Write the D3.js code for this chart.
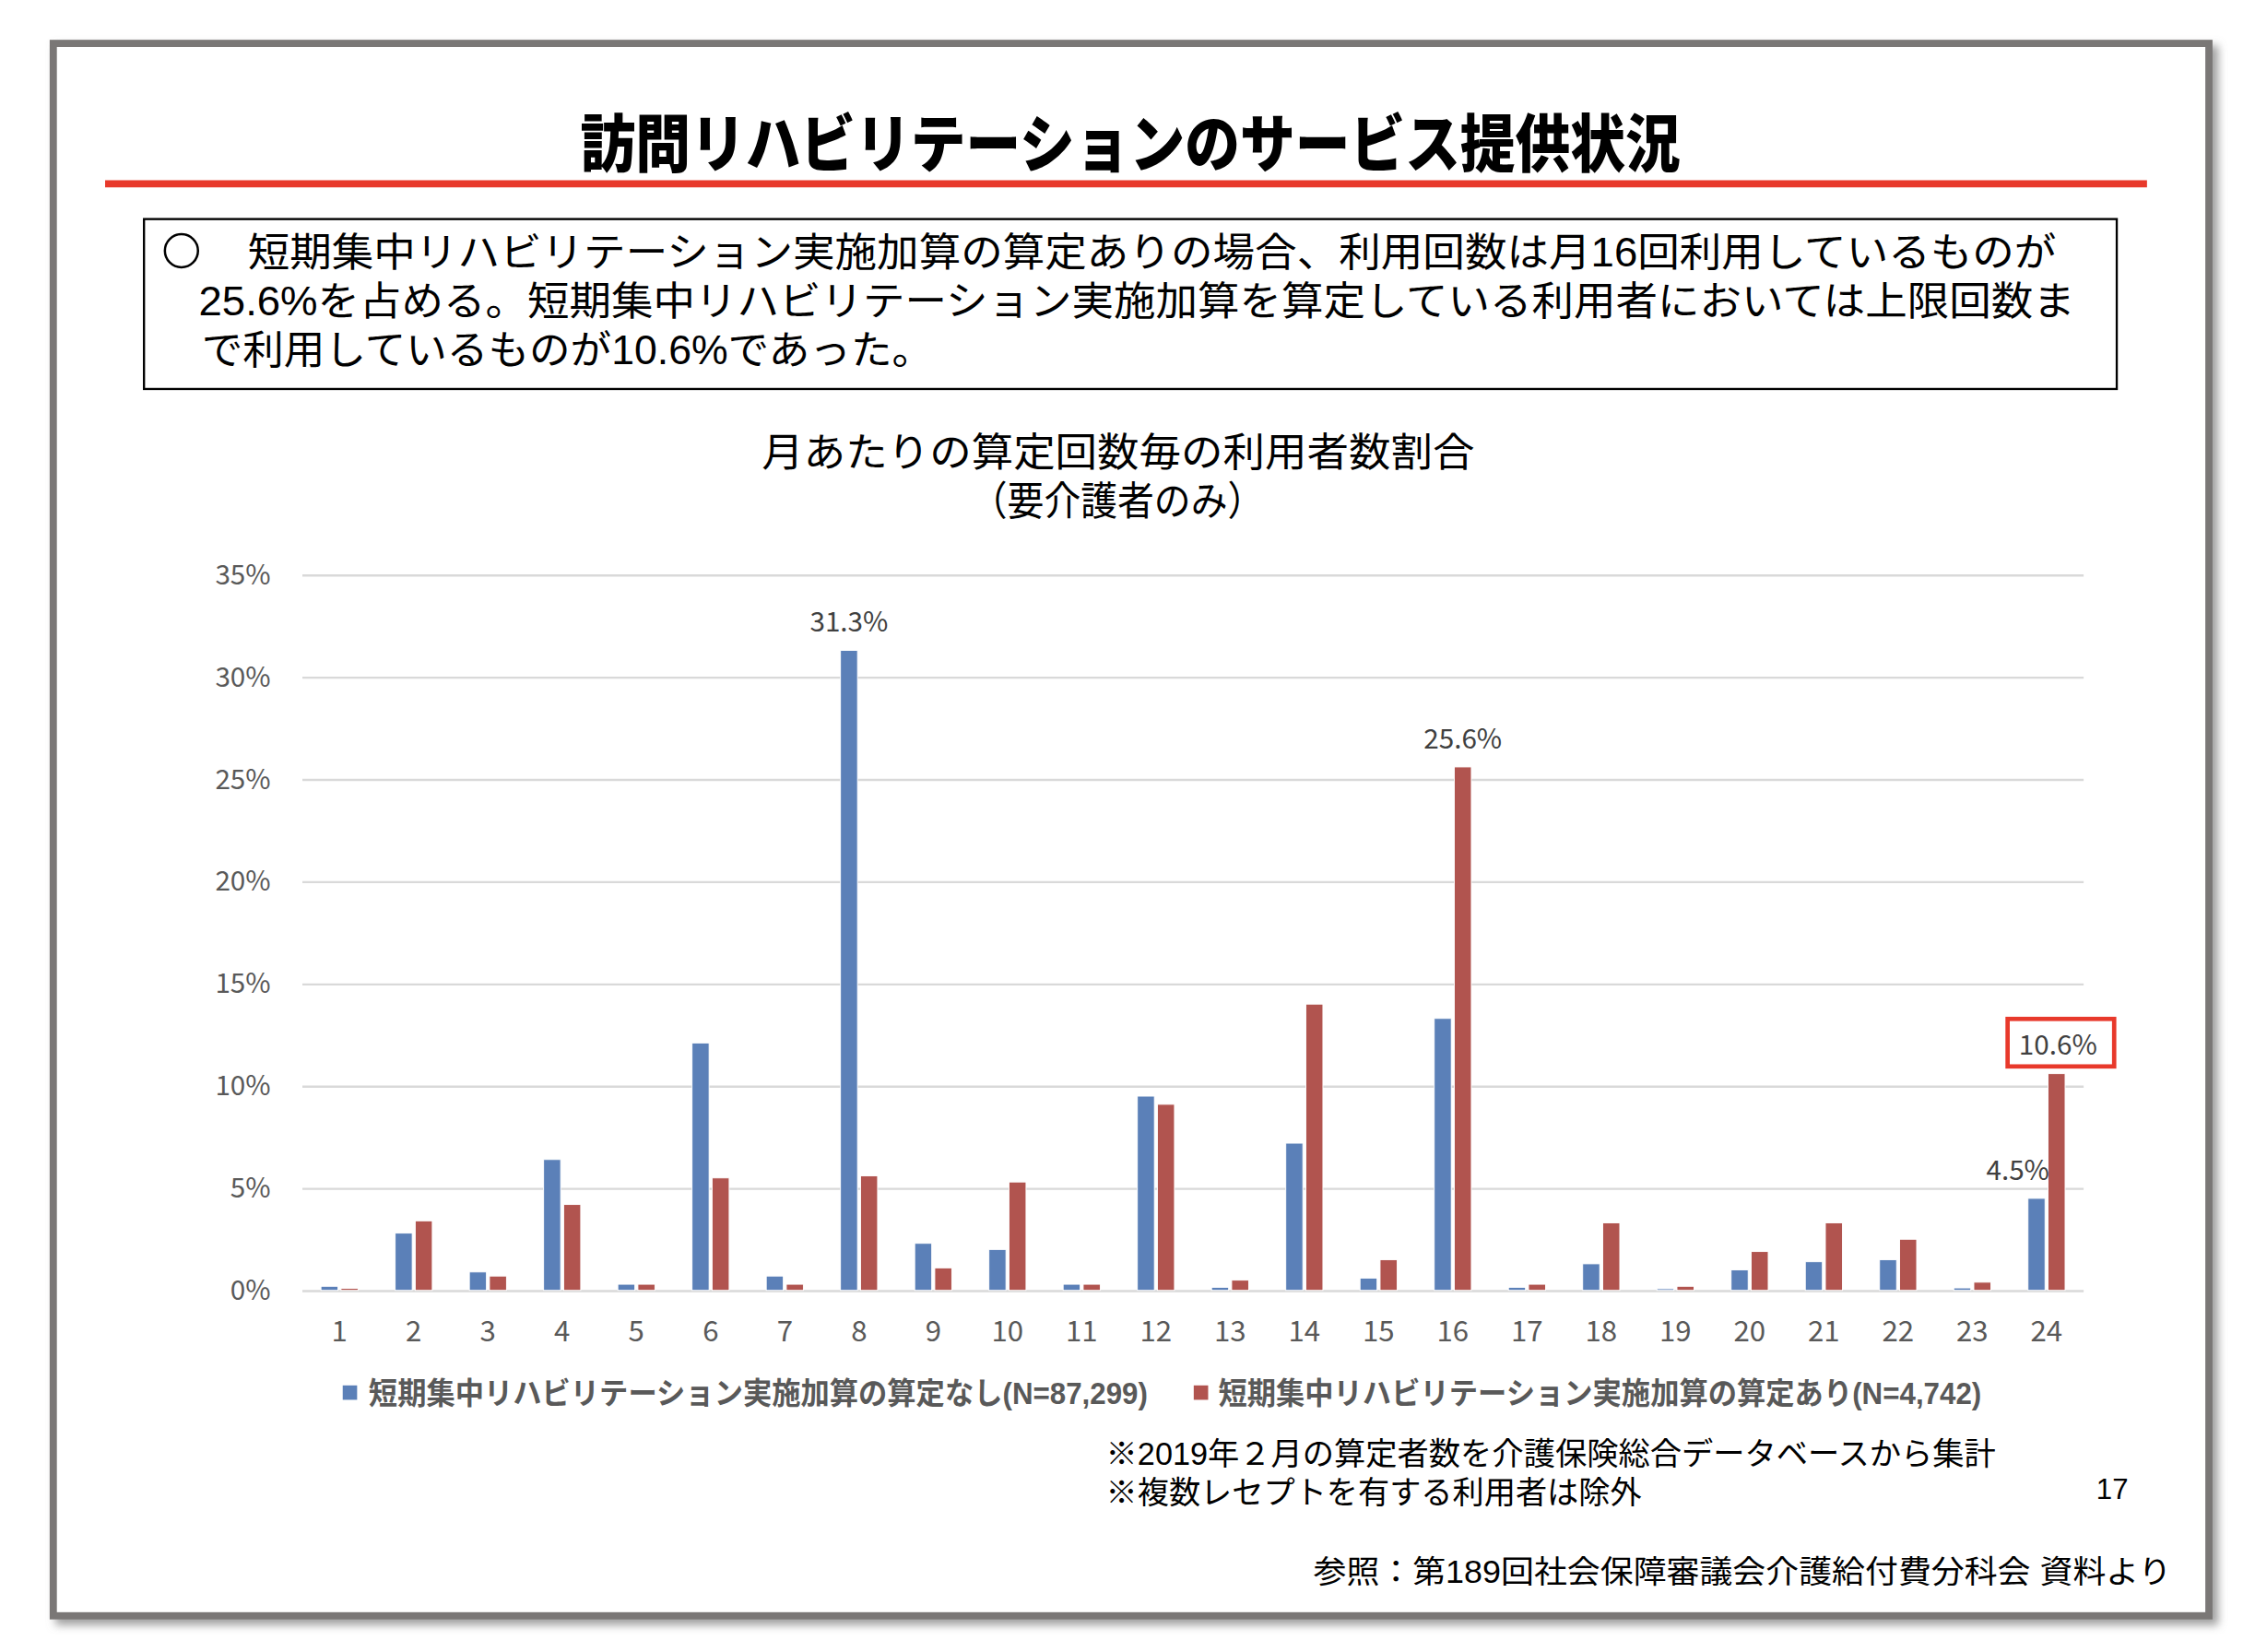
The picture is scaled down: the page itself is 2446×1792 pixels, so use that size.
<!DOCTYPE html>
<html>
<head>
<meta charset="utf-8">
<script src="https://cdn.jsdelivr.net/npm/d3@7"></script>
<style>
  body { margin: 0; background: #fff; }
  svg { display: block; }
  .jp { font-family: "Liberation Sans Narrow", "Liberation Sans", "Noto Sans CJK JP", sans-serif; }
</style>
</head>
<body>
<div id="chart"></div>
<script>
// ---- data ----
const categories = ["1","2","3","4","5","6","7","8","9","10","11","12","13","14","15","16","17","18","19","20","21","22","23","24"];
const seriesNames = ["短期集中リハビリテーション実施加算の算定なし(N=87,299)", "短期集中リハビリテーション実施加算の算定あり(N=4,742)"];
const withoutAdd = [0.2, 2.8, 0.9, 6.4, 0.3, 12.1, 0.7, 31.3, 2.3, 2.0, 0.3, 9.5, 0.15, 7.2, 0.6, 13.3, 0.15, 1.3, 0.08, 1.0, 1.4, 1.5, 0.12, 4.5];
const withAdd    = [0.1, 3.4, 0.7, 4.2, 0.3, 5.5, 0.3, 5.6, 1.1, 5.3, 0.3, 9.1, 0.5, 14.0, 1.5, 25.6, 0.3, 3.3, 0.2, 1.9, 3.3, 2.5, 0.4, 10.6];
const yTicks = [0, 5, 10, 15, 20, 25, 30, 35];
const shownLabels = [
  { s: 0, cat: "8",  text: "31.3%" },
  { s: 1, cat: "16", text: "25.6%" },
  { s: 0, cat: "24", text: "4.5%" },
  { s: 1, cat: "24", text: "10.6%", boxed: true }
];

const titleText = "訪問リハビリテーションのサービス提供状況";
const boxLines = [
  "短期集中リハビリテーション実施加算の算定ありの場合、利用回数は月16回利用しているものが",
  "25.6%を占める。短期集中リハビリテーション実施加算を算定している利用者においては上限回数ま",
  "で利用しているものが10.6%であった。"
];
const chartTitle = ["月あたりの算定回数毎の利用者数割合", "（要介護者のみ）"];
const notes = ["※2019年２月の算定者数を介護保険総合データベースから集計", "※複数レセプトを有する利用者は除外"];
const source = "参照：第189回社会保障審議会介護給付費分科会 資料より";

// ---- svg ----
const W = 1566, H = 1147;
const svg = d3.select("#chart").append("svg")
    .attr("width", 2446)
    .attr("height", 1792)
    .attr("viewBox", "0 0 " + W + " " + H)
    .attr("class", "jp");

const defs = svg.append("defs");
const f = defs.append("filter").attr("id", "shadow")
    .attr("x", "-5%").attr("y", "-5%").attr("width", "110%").attr("height", "110%");
f.append("feDropShadow").attr("dx", 4).attr("dy", 4).attr("stdDeviation", 3)
    .attr("flood-color", "#888").attr("flood-opacity", 0.8);

// frame
svg.append("rect")
    .attr("x", 37).attr("y", 30).attr("width", 1497).attr("height", 1092)
    .attr("fill", "#fff").attr("stroke", "#7a7776").attr("stroke-width", 5)
    .attr("filter", "url(#shadow)");

// title
svg.append("text")
    .attr("x", 403).attr("y", 116)
    .attr("textLength", 764).attr("lengthAdjust", "spacingAndGlyphs")
    .attr("font-family", "'Noto Sans CJK JP', sans-serif")
    .attr("font-size", 44).attr("font-weight", 900).attr("fill", "#000")
    .text(titleText);

svg.append("line")
    .attr("x1", 73).attr("x2", 1491).attr("y1", 127.5).attr("y2", 127.5)
    .attr("stroke", "#e8392b").attr("stroke-width", 5);

// text box
svg.append("rect")
    .attr("x", 100).attr("y", 152).attr("width", 1370).attr("height", 118)
    .attr("fill", "none").attr("stroke", "#000").attr("stroke-width", 1.5);

svg.append("circle").attr("cx", 126).attr("cy", 174).attr("r", 11.5)
    .attr("fill", "none").attr("stroke", "#000").attr("stroke-width", 1.6);

const boxPos = [[172, 185, 1256], [138, 219, 1303], [140, 253, 508]];
svg.selectAll(".boxline").data(boxLines).enter().append("text")
    .attr("class", "boxline")
    .attr("x", (d, i) => boxPos[i][0]).attr("y", (d, i) => boxPos[i][1])
    .attr("textLength", (d, i) => boxPos[i][2]).attr("lengthAdjust", "spacingAndGlyphs")
    .attr("font-size", 28).attr("fill", "#000")
    .text(d => d);

// chart title
const ctPos = [[529, 324, 495], [674, 358, 204]];
svg.selectAll(".ctitle").data(chartTitle).enter().append("text")
    .attr("class", "ctitle")
    .attr("x", (d, i) => ctPos[i][0]).attr("y", (d, i) => ctPos[i][1])
    .attr("textLength", (d, i) => ctPos[i][2]).attr("lengthAdjust", "spacingAndGlyphs")
    .attr("font-size", 28).attr("fill", "#000")
    .text(d => d);

// ---- scales ----
const plotL = 210, plotR = 1447, plotT = 399, plotB = 896;
const x = d3.scaleBand().domain(categories).range([plotL, plotR]).paddingInner(0.5).paddingOuter(0.25);
const xs = d3.scaleBand().domain([0, 1]).range([0, x.bandwidth()]).paddingInner(0.15);
const y = d3.scaleLinear().domain([0, 35]).range([plotB, plotT]);
const colors = ["#5b80b8", "#b1544f"];

// gridlines + y labels
const yaxis = d3.axisLeft(y).tickValues(yTicks).tickFormat(d => d + "%")
    .tickSize(-(plotR - plotL)).tickPadding(22);
const gy = svg.append("g").attr("transform", "translate(" + plotL + ",0)").call(yaxis);
gy.select(".domain").remove();
gy.selectAll(".tick line").attr("stroke", "#d9d9d9").attr("stroke-width", 1.5);
gy.selectAll(".tick text").attr("font-size", 19).attr("fill", "#595959")
    .attr("font-family", "'Noto Sans CJK JP', sans-serif");

// x labels
const xaxis = d3.axisBottom(x).tickSize(0).tickPadding(21);
const gx = svg.append("g").attr("transform", "translate(0," + plotB + ")").call(xaxis);
gx.select(".domain").remove();
gx.selectAll(".tick text").attr("font-size", 20).attr("fill", "#595959")
    .attr("font-family", "'Noto Sans CJK JP', sans-serif");

// bars
const seriesData = [withoutAdd, withAdd];
seriesData.forEach(function(vals, s) {
    svg.append("g").selectAll("rect")
        .data(vals)
        .enter().append("rect")
        .attr("x", (d, i) => x(categories[i]) + xs(s))
        .attr("y", d => y(d))
        .attr("width", xs.bandwidth())
        .attr("height", d => y(0) - y(d))
        .attr("fill", colors[s])
        .attr("stroke", "#fff").attr("stroke-width", 0.6);
});

// data labels
shownLabels.forEach(function(l) {
    const v = seriesData[l.s][categories.indexOf(l.cat)];
    let cx = x(l.cat) + xs(l.s) + xs.bandwidth() / 2;
    let ty = y(v) - 13;
    if (l.cat === "24" && l.s === 0) cx -= 13;
    if (l.boxed) {
        svg.append("rect")
            .attr("x", cx - 34).attr("y", ty - 25).attr("width", 74).attr("height", 33)
            .attr("fill", "#fff").attr("stroke", "#e8392b").attr("stroke-width", 3);
        cx += 1;
    }
    svg.append("text")
        .attr("x", cx).attr("y", ty)
        .attr("text-anchor", "middle")
        .attr("font-family", "'Noto Sans CJK JP', sans-serif")
        .attr("font-size", 19).attr("fill", "#404040")
        .text(l.text);
});

// legend
const legPos = [[238, 256, 541], [829, 846, 530]];
seriesNames.forEach(function(n, i) {
    svg.append("rect").attr("x", legPos[i][0]).attr("y", 962).attr("width", 10).attr("height", 10)
        .attr("fill", colors[i]);
    svg.append("text")
        .attr("x", legPos[i][1]).attr("y", 975)
        .attr("textLength", legPos[i][2]).attr("lengthAdjust", "spacingAndGlyphs")
        .attr("font-size", 21).attr("font-weight", 700).attr("fill", "#595959")
        .text(n);
});

// notes
const notePos = [[768, 1017, 618], [768, 1044, 372]];
svg.selectAll(".note").data(notes).enter().append("text")
    .attr("class", "note")
    .attr("x", (d, i) => notePos[i][0]).attr("y", (d, i) => notePos[i][1])
    .attr("textLength", (d, i) => notePos[i][2]).attr("lengthAdjust", "spacingAndGlyphs")
    .attr("font-size", 22).attr("fill", "#000")
    .text(d => d);

svg.append("text").attr("x", 1478).attr("y", 1041).attr("text-anchor", "end")
    .attr("font-size", 20).attr("fill", "#000").text("17");

svg.append("text").attr("x", 912).attr("y", 1099)
    .attr("textLength", 596).attr("lengthAdjust", "spacingAndGlyphs")
    .attr("font-size", 22).attr("fill", "#000")
    .text(source);
</script>
</body>
</html>
